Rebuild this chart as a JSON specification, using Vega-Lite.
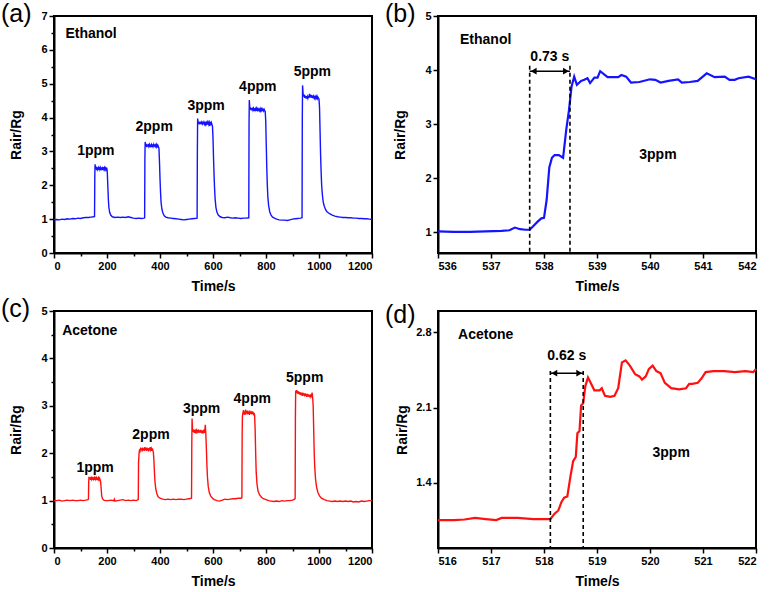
{
  "$schema": "https://vega.github.io/schema/vega-lite/v6.json",
  "padding": {"left": 0, "top": 1, "right": 5, "bottom": 5},
  "background": "white",
  "columns": 2,
  "spacing": {"row": 58, "column": 66},
  "bounds": "flush",
  "config": {
    "font": "Liberation Sans",
    "view": {"stroke": "black", "strokeWidth": 2},
    "axis": {"grid": false, "domainColor": "black", "domainWidth": 2, "tickColor": "black", "tickWidth": 1.5, "tickSize": 5,
      "labelFont": "Liberation Sans", "labelFontSize": 11, "labelFontWeight": "bold", "labelColor": "black", "labelPadding": 2, "labelOverlap": false,
      "titleFont": "Liberation Sans", "titleFontSize": 14, "titleFontWeight": "bold", "titleColor": "black"},
    "axisX": {"titlePadding": 8},
    "axisY": {"titlePadding": 17},
    "title": {"font": "Liberation Sans", "fontSize": 25, "fontWeight": "normal", "color": "black", "anchor": "start", "frame": "group", "offset": -17, "dx": -53},
    "text": {"font": "Liberation Sans", "fontWeight": "bold", "fontSize": 14, "color": "black", "baseline": "middle", "align": "center"}
  },
  "datasets": {
    "a": [
      {"t":0,"v":0.98},{"t":10,"v":0.99},{"t":20,"v":0.98},{"t":30,"v":1.0},{"t":40,"v":0.99},{"t":50,"v":1.01},{"t":60,"v":1.0},{"t":70,"v":1.02},{"t":80,"v":1.01},{"t":90,"v":1.03},{"t":100,"v":1.02},{"t":110,"v":1.04},{"t":120,"v":1.05},{"t":130,"v":1.05},{"t":140,"v":1.06},{"t":150,"v":1.07},{"t":153,"v":1.08},
      {"t":154,"v":2.3},{"t":155,"v":2.62},{"t":157,"v":2.48},{"t":159,"v":2.55},{"t":161,"v":2.45},{"t":163,"v":2.53},{"t":165,"v":2.47},{"t":167,"v":2.52},{"t":169,"v":2.46},{"t":171,"v":2.54},{"t":173,"v":2.47},{"t":175,"v":2.52},{"t":177,"v":2.45},{"t":179,"v":2.53},{"t":181,"v":2.48},{"t":183,"v":2.51},{"t":185,"v":2.45},{"t":187,"v":2.54},{"t":189,"v":2.47},{"t":191,"v":2.52},{"t":193,"v":2.46},{"t":195,"v":2.51},{"t":197,"v":2.47},{"t":199,"v":2.52},{"t":201,"v":2.4},{"t":203,"v":2.0},{"t":205,"v":1.6},{"t":207,"v":1.35},{"t":210,"v":1.2},{"t":214,"v":1.12},{"t":220,"v":1.07},{"t":230,"v":1.05},{"t":240,"v":1.06},{"t":250,"v":1.05},{"t":260,"v":1.06},{"t":270,"v":1.05},{"t":280,"v":1.07},{"t":290,"v":1.05},{"t":300,"v":1.03},{"t":310,"v":1.02},{"t":320,"v":1.03},{"t":330,"v":1.02},{"t":340,"v":1.03},{"t":342,"v":1.04},
      {"t":343,"v":2.8},{"t":344,"v":3.28},{"t":346,"v":3.15},{"t":348,"v":3.22},{"t":350,"v":3.13},{"t":352,"v":3.2},{"t":354,"v":3.14},{"t":356,"v":3.22},{"t":358,"v":3.15},{"t":360,"v":3.2},{"t":362,"v":3.13},{"t":364,"v":3.21},{"t":366,"v":3.16},{"t":368,"v":3.2},{"t":370,"v":3.13},{"t":372,"v":3.21},{"t":374,"v":3.15},{"t":376,"v":3.2},{"t":378,"v":3.14},{"t":380,"v":3.21},{"t":382,"v":3.15},{"t":384,"v":3.19},{"t":386,"v":3.14},{"t":388,"v":3.2},{"t":390,"v":3.15},{"t":392,"v":3.18},{"t":394,"v":3.14},{"t":396,"v":3.1},{"t":398,"v":2.7},{"t":400,"v":2.2},{"t":402,"v":1.8},{"t":404,"v":1.5},{"t":407,"v":1.3},{"t":411,"v":1.18},{"t":416,"v":1.1},{"t":422,"v":1.06},{"t":430,"v":1.04},{"t":440,"v":1.03},{"t":450,"v":1.02},{"t":460,"v":1.01},{"t":470,"v":1.0},{"t":480,"v":0.99},{"t":490,"v":0.98},{"t":500,"v":0.99},{"t":510,"v":1.0},{"t":520,"v":1.01},{"t":530,"v":1.02},{"t":540,"v":1.03},
      {"t":541,"v":3.0},{"t":542,"v":3.97},{"t":544,"v":3.83},{"t":546,"v":3.88},{"t":548,"v":3.8},{"t":550,"v":3.87},{"t":552,"v":3.81},{"t":554,"v":3.88},{"t":556,"v":3.8},{"t":558,"v":3.86},{"t":560,"v":3.82},{"t":562,"v":3.88},{"t":564,"v":3.8},{"t":566,"v":3.86},{"t":568,"v":3.81},{"t":570,"v":3.87},{"t":572,"v":3.8},{"t":574,"v":3.85},{"t":576,"v":3.81},{"t":578,"v":3.86},{"t":580,"v":3.79},{"t":582,"v":3.85},{"t":584,"v":3.8},{"t":586,"v":3.86},{"t":588,"v":3.8},{"t":590,"v":3.84},{"t":592,"v":3.8},{"t":594,"v":3.85},{"t":596,"v":3.8},{"t":598,"v":3.75},{"t":600,"v":3.4},{"t":602,"v":2.8},{"t":604,"v":2.3},{"t":606,"v":1.9},{"t":608,"v":1.6},{"t":611,"v":1.35},{"t":615,"v":1.2},{"t":620,"v":1.12},{"t":627,"v":1.07},{"t":635,"v":1.05},{"t":645,"v":1.04},{"t":655,"v":1.06},{"t":665,"v":1.04},{"t":675,"v":1.03},{"t":685,"v":1.04},{"t":695,"v":1.03},{"t":705,"v":1.02},{"t":715,"v":1.03},{"t":725,"v":1.03},{"t":735,"v":1.04},
      {"t":736,"v":3.8},{"t":737,"v":4.52},{"t":739,"v":4.25},{"t":741,"v":4.3},{"t":743,"v":4.22},{"t":745,"v":4.28},{"t":747,"v":4.21},{"t":749,"v":4.29},{"t":751,"v":4.22},{"t":753,"v":4.27},{"t":755,"v":4.2},{"t":757,"v":4.28},{"t":759,"v":4.22},{"t":761,"v":4.26},{"t":763,"v":4.2},{"t":765,"v":4.27},{"t":767,"v":4.22},{"t":769,"v":4.26},{"t":771,"v":4.19},{"t":773,"v":4.27},{"t":775,"v":4.21},{"t":777,"v":4.25},{"t":779,"v":4.2},{"t":781,"v":4.26},{"t":783,"v":4.21},{"t":785,"v":4.25},{"t":787,"v":4.19},{"t":789,"v":4.26},{"t":791,"v":4.2},{"t":793,"v":4.24},{"t":795,"v":4.2},{"t":797,"v":4.18},{"t":799,"v":3.9},{"t":801,"v":3.2},{"t":803,"v":2.5},{"t":805,"v":2.0},{"t":807,"v":1.65},{"t":810,"v":1.4},{"t":814,"v":1.22},{"t":819,"v":1.12},{"t":825,"v":1.06},{"t":832,"v":1.03},{"t":840,"v":1.0},{"t":850,"v":0.98},{"t":860,"v":0.97},{"t":870,"v":0.97},{"t":880,"v":0.96},{"t":890,"v":0.98},{"t":900,"v":1.0},{"t":910,"v":1.01},{"t":920,"v":1.02},{"t":930,"v":1.03},{"t":936,"v":1.04},
      {"t":937,"v":4.0},{"t":938,"v":4.95},{"t":940,"v":4.7},{"t":942,"v":4.62},{"t":944,"v":4.68},{"t":946,"v":4.58},{"t":948,"v":4.65},{"t":950,"v":4.57},{"t":952,"v":4.63},{"t":954,"v":4.56},{"t":956,"v":4.62},{"t":958,"v":4.57},{"t":960,"v":4.64},{"t":962,"v":4.58},{"t":964,"v":4.7},{"t":966,"v":4.6},{"t":968,"v":4.68},{"t":970,"v":4.59},{"t":972,"v":4.66},{"t":974,"v":4.58},{"t":976,"v":4.65},{"t":978,"v":4.57},{"t":980,"v":4.63},{"t":982,"v":4.58},{"t":984,"v":4.64},{"t":986,"v":4.57},{"t":988,"v":4.62},{"t":990,"v":4.58},{"t":992,"v":4.63},{"t":994,"v":4.56},{"t":996,"v":4.6},{"t":998,"v":4.57},{"t":1000,"v":4.55},{"t":1002,"v":4.3},{"t":1004,"v":3.6},{"t":1006,"v":2.9},{"t":1008,"v":2.4},{"t":1010,"v":2.0},{"t":1013,"v":1.7},{"t":1016,"v":1.5},{"t":1020,"v":1.38},{"t":1025,"v":1.28},{"t":1030,"v":1.22},{"t":1040,"v":1.16},{"t":1050,"v":1.12},{"t":1060,"v":1.09},{"t":1070,"v":1.07},{"t":1080,"v":1.06},{"t":1090,"v":1.05},{"t":1100,"v":1.05},{"t":1110,"v":1.04},{"t":1120,"v":1.04},{"t":1130,"v":1.03},{"t":1140,"v":1.03},{"t":1150,"v":1.02},{"t":1160,"v":1.02},{"t":1170,"v":1.01},{"t":1180,"v":1.01},{"t":1190,"v":1.0},{"t":1200,"v":0.99}
    ],
    "aLabels": [
      {"t":140,"v":6.48,"label":"Ethanol"},{"t":158,"v":3.0,"label":"1ppm"},{"t":378,"v":3.73,"label":"2ppm"},{"t":574,"v":4.34,"label":"3ppm"},{"t":769,"v":4.89,"label":"4ppm"},{"t":975,"v":5.35,"label":"5ppm"}
    ],
    "c": [
      {"t":0,"v":1.0},{"t":10,"v":1.0},{"t":20,"v":1.01},{"t":30,"v":0.99},{"t":40,"v":1.0},{"t":50,"v":1.01},{"t":60,"v":1.0},{"t":70,"v":1.01},{"t":80,"v":1.0},{"t":90,"v":1.0},{"t":100,"v":1.01},{"t":110,"v":1.0},{"t":120,"v":1.01},{"t":128,"v":1.02},{"t":130,"v":1.03},
      {"t":131,"v":1.4},{"t":132,"v":1.5},{"t":134,"v":1.45},{"t":136,"v":1.49},{"t":138,"v":1.44},{"t":140,"v":1.48},{"t":142,"v":1.45},{"t":144,"v":1.5},{"t":146,"v":1.44},{"t":148,"v":1.49},{"t":150,"v":1.45},{"t":152,"v":1.48},{"t":154,"v":1.44},{"t":156,"v":1.5},{"t":158,"v":1.45},{"t":160,"v":1.48},{"t":162,"v":1.44},{"t":164,"v":1.49},{"t":166,"v":1.45},{"t":168,"v":1.48},{"t":170,"v":1.44},{"t":172,"v":1.47},{"t":174,"v":1.44},{"t":176,"v":1.4},{"t":178,"v":1.25},{"t":180,"v":1.1},{"t":183,"v":1.04},{"t":188,"v":1.01},{"t":195,"v":1.0},{"t":205,"v":1.0},{"t":215,"v":1.01},{"t":225,"v":1.0},{"t":228,"v":1.03},{"t":230,"v":0.99},{"t":240,"v":1.0},{"t":250,"v":1.01},{"t":260,"v":1.02},{"t":270,"v":1.0},{"t":280,"v":1.01},{"t":290,"v":1.0},{"t":300,"v":1.01},{"t":310,"v":1.0},{"t":318,"v":1.02},
      {"t":319,"v":1.8},{"t":321,"v":2.0},{"t":323,"v":2.08},{"t":325,"v":2.05},{"t":327,"v":2.12},{"t":329,"v":2.06},{"t":331,"v":2.1},{"t":333,"v":2.04},{"t":335,"v":2.12},{"t":337,"v":2.06},{"t":339,"v":2.1},{"t":341,"v":2.05},{"t":343,"v":2.13},{"t":345,"v":2.07},{"t":347,"v":2.11},{"t":349,"v":2.05},{"t":351,"v":2.12},{"t":353,"v":2.06},{"t":355,"v":2.1},{"t":357,"v":2.04},{"t":359,"v":2.11},{"t":361,"v":2.06},{"t":363,"v":2.13},{"t":365,"v":2.07},{"t":367,"v":2.1},{"t":369,"v":2.05},{"t":371,"v":2.1},{"t":373,"v":2.06},{"t":375,"v":2.02},{"t":377,"v":1.85},{"t":379,"v":1.6},{"t":381,"v":1.4},{"t":384,"v":1.25},{"t":388,"v":1.15},{"t":393,"v":1.08},{"t":400,"v":1.05},{"t":410,"v":1.03},{"t":420,"v":1.02},{"t":430,"v":1.03},{"t":440,"v":1.02},{"t":450,"v":1.03},{"t":460,"v":1.02},{"t":470,"v":1.03},{"t":480,"v":1.03},{"t":490,"v":1.02},{"t":500,"v":1.03},{"t":510,"v":1.04},{"t":519,"v":1.05},
      {"t":520,"v":2.2},{"t":521,"v":2.73},{"t":523,"v":2.45},{"t":525,"v":2.5},{"t":527,"v":2.44},{"t":529,"v":2.49},{"t":531,"v":2.43},{"t":533,"v":2.5},{"t":535,"v":2.45},{"t":537,"v":2.48},{"t":539,"v":2.42},{"t":541,"v":2.49},{"t":543,"v":2.44},{"t":545,"v":2.5},{"t":547,"v":2.43},{"t":549,"v":2.48},{"t":551,"v":2.44},{"t":553,"v":2.49},{"t":555,"v":2.43},{"t":557,"v":2.48},{"t":559,"v":2.42},{"t":561,"v":2.48},{"t":563,"v":2.44},{"t":565,"v":2.47},{"t":567,"v":2.43},{"t":569,"v":2.48},{"t":571,"v":2.6},{"t":573,"v":2.4},{"t":575,"v":2.1},{"t":577,"v":1.75},{"t":579,"v":1.5},{"t":582,"v":1.3},{"t":586,"v":1.17},{"t":591,"v":1.1},{"t":598,"v":1.05},{"t":605,"v":1.02},{"t":615,"v":1.0},{"t":625,"v":0.99},{"t":635,"v":1.01},{"t":645,"v":1.03},{"t":655,"v":1.02},{"t":665,"v":1.03},{"t":675,"v":1.04},{"t":685,"v":1.04},{"t":695,"v":1.05},{"t":705,"v":1.05},{"t":709,"v":1.06},
      {"t":710,"v":2.4},{"t":711,"v":2.78},{"t":713,"v":2.85},{"t":715,"v":2.91},{"t":717,"v":2.82},{"t":719,"v":2.88},{"t":721,"v":2.81},{"t":723,"v":2.92},{"t":725,"v":2.84},{"t":727,"v":2.89},{"t":729,"v":2.82},{"t":731,"v":2.9},{"t":733,"v":2.83},{"t":735,"v":2.88},{"t":737,"v":2.81},{"t":739,"v":2.9},{"t":741,"v":2.83},{"t":743,"v":2.87},{"t":745,"v":2.82},{"t":747,"v":2.89},{"t":749,"v":2.83},{"t":751,"v":2.87},{"t":753,"v":2.8},{"t":755,"v":2.85},{"t":757,"v":2.8},{"t":759,"v":2.5},{"t":761,"v":2.0},{"t":763,"v":1.6},{"t":766,"v":1.35},{"t":770,"v":1.2},{"t":776,"v":1.12},{"t":783,"v":1.07},{"t":790,"v":1.04},{"t":800,"v":1.02},{"t":810,"v":1.0},{"t":820,"v":0.99},{"t":830,"v":0.98},{"t":840,"v":0.99},{"t":850,"v":0.98},{"t":860,"v":1.0},{"t":870,"v":0.99},{"t":880,"v":1.0},{"t":890,"v":1.0},{"t":900,"v":1.01},{"t":908,"v":1.03},{"t":910,"v":1.05},
      {"t":911,"v":2.8},{"t":912,"v":3.32},{"t":914,"v":3.28},{"t":916,"v":3.33},{"t":918,"v":3.26},{"t":920,"v":3.31},{"t":922,"v":3.25},{"t":924,"v":3.3},{"t":926,"v":3.24},{"t":928,"v":3.29},{"t":930,"v":3.23},{"t":932,"v":3.28},{"t":934,"v":3.22},{"t":936,"v":3.28},{"t":938,"v":3.21},{"t":940,"v":3.27},{"t":942,"v":3.22},{"t":944,"v":3.26},{"t":946,"v":3.2},{"t":948,"v":3.26},{"t":950,"v":3.21},{"t":952,"v":3.25},{"t":954,"v":3.19},{"t":956,"v":3.25},{"t":958,"v":3.2},{"t":960,"v":3.24},{"t":962,"v":3.19},{"t":964,"v":3.23},{"t":966,"v":3.18},{"t":968,"v":3.24},{"t":970,"v":3.19},{"t":972,"v":3.22},{"t":974,"v":3.28},{"t":976,"v":3.18},{"t":978,"v":3.0},{"t":980,"v":2.5},{"t":982,"v":2.0},{"t":984,"v":1.7},{"t":987,"v":1.45},{"t":991,"v":1.28},{"t":996,"v":1.17},{"t":1002,"v":1.1},{"t":1009,"v":1.05},{"t":1020,"v":1.02},{"t":1030,"v":1.0},{"t":1040,"v":0.99},{"t":1050,"v":0.98},{"t":1060,"v":0.99},{"t":1070,"v":0.98},{"t":1080,"v":0.99},{"t":1090,"v":0.98},{"t":1100,"v":0.99},{"t":1110,"v":0.98},{"t":1120,"v":0.99},{"t":1130,"v":0.97},{"t":1140,"v":0.98},{"t":1150,"v":0.97},{"t":1160,"v":0.99},{"t":1170,"v":0.98},{"t":1180,"v":0.99},{"t":1190,"v":1.0},{"t":1200,"v":1.0}
    ],
    "cLabels": [
      {"t":135,"v":4.58,"label":"Acetone"},{"t":155,"v":1.69,"label":"1ppm"},{"t":366,"v":2.38,"label":"2ppm"},{"t":557,"v":2.93,"label":"3ppm"},{"t":748,"v":3.14,"label":"4ppm"},{"t":946,"v":3.58,"label":"5ppm"}
    ],
    "b": [
      {"t":536,"v":1.02},{"t":536.3,"v":1.01},{"t":536.6,"v":1.01},{"t":536.9,"v":1.02},{"t":537.2,"v":1.03},{"t":537.35,"v":1.04},{"t":537.45,"v":1.09},{"t":537.55,"v":1.06},{"t":537.65,"v":1.05},{"t":537.73,"v":1.05},{"t":537.8,"v":1.12},{"t":537.88,"v":1.2},{"t":537.95,"v":1.26},{"t":538.0,"v":1.27},{"t":538.05,"v":1.6},{"t":538.1,"v":2.2},{"t":538.15,"v":2.38},{"t":538.2,"v":2.43},{"t":538.28,"v":2.43},{"t":538.36,"v":2.38},{"t":538.42,"v":2.9},{"t":538.47,"v":3.25},{"t":538.52,"v":3.7},{"t":538.57,"v":3.88},{"t":538.62,"v":3.73},{"t":538.7,"v":3.8},{"t":538.76,"v":3.82},{"t":538.82,"v":3.85},{"t":538.87,"v":3.76},{"t":538.95,"v":3.86},{"t":539.01,"v":3.86},{"t":539.06,"v":3.98},{"t":539.2,"v":3.87},{"t":539.4,"v":3.87},{"t":539.46,"v":3.91},{"t":539.55,"v":3.88},{"t":539.64,"v":3.77},{"t":539.8,"v":3.78},{"t":540.0,"v":3.83},{"t":540.1,"v":3.82},{"t":540.2,"v":3.77},{"t":540.35,"v":3.8},{"t":540.53,"v":3.83},{"t":540.6,"v":3.77},{"t":540.75,"v":3.78},{"t":540.9,"v":3.8},{"t":541.07,"v":3.94},{"t":541.22,"v":3.87},{"t":541.41,"v":3.88},{"t":541.5,"v":3.82},{"t":541.6,"v":3.82},{"t":541.67,"v":3.85},{"t":541.86,"v":3.88},{"t":542.0,"v":3.83}
    ],
    "bDash": [{"t":537.73,"top":4.08},{"t":538.49,"top":4.08}],
    "bArrow": [{"t1":537.73,"t2":538.49,"v":3.98}],
    "bLabels": [{"t":536.9,"v":4.56,"label":"Ethanol"},{"t":538.11,"v":4.24,"label":"0.73 s"},{"t":540.15,"v":2.44,"label":"3ppm"}],
    "d": [
      {"t":516,"v":1.05},{"t":516.3,"v":1.05},{"t":516.5,"v":1.056},{"t":516.7,"v":1.07},{"t":516.9,"v":1.06},{"t":517.1,"v":1.05},{"t":517.2,"v":1.07},{"t":517.5,"v":1.07},{"t":517.8,"v":1.06},{"t":518.0,"v":1.06},{"t":518.12,"v":1.06},{"t":518.2,"v":1.11},{"t":518.27,"v":1.14},{"t":518.33,"v":1.22},{"t":518.38,"v":1.26},{"t":518.44,"v":1.27},{"t":518.5,"v":1.46},{"t":518.55,"v":1.6},{"t":518.6,"v":1.64},{"t":518.63,"v":1.86},{"t":518.67,"v":1.88},{"t":518.7,"v":2.12},{"t":518.74,"v":2.14},{"t":518.78,"v":2.3},{"t":518.83,"v":2.38},{"t":518.88,"v":2.33},{"t":518.95,"v":2.26},{"t":519.05,"v":2.26},{"t":519.09,"v":2.28},{"t":519.15,"v":2.21},{"t":519.25,"v":2.2},{"t":519.33,"v":2.21},{"t":519.4,"v":2.28},{"t":519.47,"v":2.52},{"t":519.54,"v":2.54},{"t":519.62,"v":2.49},{"t":519.72,"v":2.41},{"t":519.8,"v":2.39},{"t":519.85,"v":2.36},{"t":519.92,"v":2.39},{"t":519.98,"v":2.46},{"t":520.05,"v":2.49},{"t":520.12,"v":2.44},{"t":520.2,"v":2.42},{"t":520.28,"v":2.33},{"t":520.4,"v":2.28},{"t":520.55,"v":2.27},{"t":520.68,"v":2.28},{"t":520.74,"v":2.32},{"t":520.8,"v":2.32},{"t":520.9,"v":2.33},{"t":520.97,"v":2.37},{"t":521.05,"v":2.43},{"t":521.2,"v":2.44},{"t":521.4,"v":2.44},{"t":521.6,"v":2.43},{"t":521.8,"v":2.44},{"t":521.95,"v":2.43},{"t":522,"v":2.46}
    ],
    "dDash": [{"t":518.12,"top":2.44},{"t":518.74,"top":2.44}],
    "dArrow": [{"t1":518.12,"t2":518.74,"v":2.42}],
    "dLabels": [{"t":516.9,"v":2.78,"label":"Acetone"},{"t":518.43,"v":2.58,"label":"0.62 s"},{"t":520.4,"v":1.675,"label":"3ppm"}]
  },
  "concat": [
    {
      "width": 318, "height": 237,
      "title": {"text": "(a)"},
      "layer": [
        {"data": {"name": "a"}, "mark": {"type": "line", "color": "#1414ff", "strokeWidth": 1.4},
         "encoding": {
           "x": {"field": "t", "type": "quantitative", "scale": {"domain": [0, 1200], "nice": false}, "axis": {"orient": "bottom", "values": [0,200,400,600,800,1000,1200], "format": "d", "title": "Time/s"}},
           "y": {"field": "v", "type": "quantitative", "scale": {"domain": [0, 7], "nice": false}, "axis": {"orient": "left", "values": [0,1,2,3,4,5,6,7], "format": "d", "title": "Rair/Rg"}}}},
        {"data": {"name": "aLabels"}, "mark": {"type": "text", "fontSize": 14},
         "encoding": {
           "x": {"field": "t", "type": "quantitative", "axis": {"orient": "bottom", "values": [100,300,500,700,900,1100], "labels": false, "domain": false, "tickSize": 3, "title": null}},
           "y": {"field": "v", "type": "quantitative", "axis": {"orient": "left", "values": [0.5,1.5,2.5,3.5,4.5,5.5,6.5], "labels": false, "domain": false, "tickSize": 3, "title": null}},
           "text": {"field": "label"}}}
      ],
      "resolve": {"axis": {"x": "independent", "y": "independent"}}
    },
    {
      "width": 318, "height": 237,
      "title": {"text": "(b)"},
      "layer": [
        {"data": {"name": "b"}, "mark": {"type": "line", "color": "#1414ff", "strokeWidth": 2.2},
         "encoding": {
           "x": {"field": "t", "type": "quantitative", "scale": {"domain": [536, 542], "nice": false}, "axis": {"values": [536,537,538,539,540,541,542], "format": "d", "title": "Time/s"}},
           "y": {"field": "v", "type": "quantitative", "scale": {"domain": [0.62, 5], "nice": false, "zero": false}, "axis": {"values": [1,2,3,4,5], "format": "d", "title": "Rair/Rg"}}}},
        {"data": {"name": "bDash"}, "mark": {"type": "rule", "color": "black", "strokeWidth": 1.6, "strokeDash": [4, 3]},
         "encoding": {"x": {"field": "t", "type": "quantitative"}, "y": {"field": "top", "type": "quantitative"}, "y2": {"datum": 0.62}}},
        {"data": {"name": "bArrow"}, "mark": {"type": "rule", "color": "black", "strokeWidth": 1.5},
         "encoding": {"x": {"field": "t1", "type": "quantitative"}, "x2": {"field": "t2"}, "y": {"field": "v", "type": "quantitative"}}},
        {"data": {"name": "bArrow"}, "mark": {"type": "point", "shape": "triangle-left", "filled": true, "color": "black", "opacity": 1, "size": 45, "xOffset": 4},
         "encoding": {"x": {"field": "t1", "type": "quantitative"}, "y": {"field": "v", "type": "quantitative"}}},
        {"data": {"name": "bArrow"}, "mark": {"type": "point", "shape": "triangle-right", "filled": true, "color": "black", "opacity": 1, "size": 45, "xOffset": -4},
         "encoding": {"x": {"field": "t2", "type": "quantitative"}, "y": {"field": "v", "type": "quantitative"}}},
        {"data": {"name": "bLabels"}, "mark": {"type": "text", "fontSize": 14},
         "encoding": {"x": {"field": "t", "type": "quantitative"}, "y": {"field": "v", "type": "quantitative"}, "text": {"field": "label"}}}
      ]
    },
    {
      "width": 318, "height": 237,
      "title": {"text": "(c)"},
      "layer": [
        {"data": {"name": "c"}, "mark": {"type": "line", "color": "#ff1010", "strokeWidth": 1.4},
         "encoding": {
           "x": {"field": "t", "type": "quantitative", "scale": {"domain": [0, 1200], "nice": false}, "axis": {"orient": "bottom", "values": [0,200,400,600,800,1000,1200], "format": "d", "title": "Time/s"}},
           "y": {"field": "v", "type": "quantitative", "scale": {"domain": [0, 5], "nice": false}, "axis": {"orient": "left", "values": [0,1,2,3,4,5], "format": "d", "title": "Rair/Rg"}}}},
        {"data": {"name": "cLabels"}, "mark": {"type": "text", "fontSize": 14},
         "encoding": {
           "x": {"field": "t", "type": "quantitative", "axis": {"orient": "bottom", "values": [100,300,500,700,900,1100], "labels": false, "domain": false, "tickSize": 3, "title": null}},
           "y": {"field": "v", "type": "quantitative", "axis": {"orient": "left", "values": [0.5,1.5,2.5,3.5,4.5], "labels": false, "domain": false, "tickSize": 3, "title": null}},
           "text": {"field": "label"}}}
      ],
      "resolve": {"axis": {"x": "independent", "y": "independent"}}
    },
    {
      "width": 318, "height": 237,
      "title": {"text": "(d)"},
      "layer": [
        {"data": {"name": "d"}, "mark": {"type": "line", "color": "#ff1010", "strokeWidth": 2.2},
         "encoding": {
           "x": {"field": "t", "type": "quantitative", "scale": {"domain": [516, 522], "nice": false}, "axis": {"values": [516,517,518,519,520,521,522], "format": "d", "title": "Time/s"}},
           "y": {"field": "v", "type": "quantitative", "scale": {"domain": [0.79, 3.0], "nice": false, "zero": false}, "axis": {"values": [1.4, 2.1, 2.8], "format": ".1f", "title": "Rair/Rg", "titlePadding": 6}}}},
        {"data": {"name": "dDash"}, "mark": {"type": "rule", "color": "black", "strokeWidth": 1.6, "strokeDash": [4, 3]},
         "encoding": {"x": {"field": "t", "type": "quantitative"}, "y": {"field": "top", "type": "quantitative"}, "y2": {"datum": 0.79}}},
        {"data": {"name": "dArrow"}, "mark": {"type": "rule", "color": "black", "strokeWidth": 1.5},
         "encoding": {"x": {"field": "t1", "type": "quantitative"}, "x2": {"field": "t2"}, "y": {"field": "v", "type": "quantitative"}}},
        {"data": {"name": "dArrow"}, "mark": {"type": "point", "shape": "triangle-left", "filled": true, "color": "black", "opacity": 1, "size": 45, "xOffset": 4},
         "encoding": {"x": {"field": "t1", "type": "quantitative"}, "y": {"field": "v", "type": "quantitative"}}},
        {"data": {"name": "dArrow"}, "mark": {"type": "point", "shape": "triangle-right", "filled": true, "color": "black", "opacity": 1, "size": 45, "xOffset": -4},
         "encoding": {"x": {"field": "t2", "type": "quantitative"}, "y": {"field": "v", "type": "quantitative"}}},
        {"data": {"name": "dLabels"}, "mark": {"type": "text", "fontSize": 14},
         "encoding": {"x": {"field": "t", "type": "quantitative"}, "y": {"field": "v", "type": "quantitative"}, "text": {"field": "label"}}}
      ]
    }
  ]
}
